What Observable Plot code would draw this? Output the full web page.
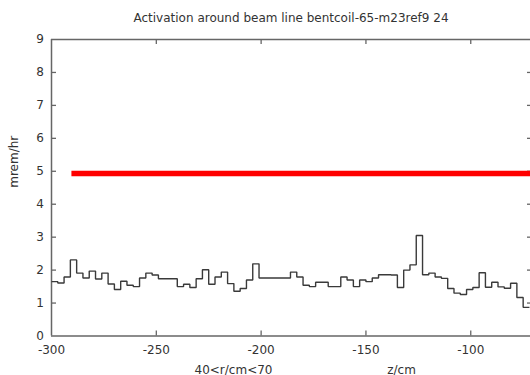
<!DOCTYPE html>
<html>
<head>
<meta charset="utf-8">
<script src="https://cdn.jsdelivr.net/npm/d3@7"></script>
<script src="https://cdn.jsdelivr.net/npm/@observablehq/plot@0.6"></script>
<style>
  html, body { margin: 0; padding: 0; background: #fff; overflow: hidden; }
  #chart { width: 530px; height: 375px; }
</style>
</head>
<body>
<div id="chart"></div>
<script>
// ---- data ----
const titleText = "Activation around beam line bentcoil-65-m23ref9 24";
const xLabel = "z/cm";
const regionLabel = "40<r/cm<70";
const yLabel = "mrem/hr";
const xTicks = [-300, -250, -200, -150, -100];
const yTicks = [0, 1, 2, 3, 4, 5, 6, 7, 8, 9];
const zStart = -300;      // first bin lower edge (cm)
const binWidth = 3;       // cm
const activation = [
  1.65, 1.61, 1.79, 2.31, 1.91, 1.76, 1.97, 1.73, 1.91, 1.58,
  1.41, 1.66, 1.54, 1.50, 1.76, 1.91, 1.85, 1.74, 1.74, 1.74,
  1.50, 1.57, 1.47, 1.74, 2.01, 1.57, 1.79, 1.94, 1.59, 1.36,
  1.44, 1.70, 2.19, 1.76, 1.76, 1.76, 1.76, 1.76, 1.94, 1.79,
  1.54, 1.50, 1.63, 1.63, 1.50, 1.50, 1.79, 1.70, 1.50, 1.70,
  1.65, 1.76, 1.86, 1.86, 1.85, 1.47, 2.00, 2.16, 3.05, 1.86,
  1.91, 1.79, 1.75, 1.44, 1.30, 1.26, 1.41, 1.47, 1.92, 1.48,
  1.63, 1.49, 1.45, 1.60, 1.17, 0.87
];
const limitZ = [-290.5, -60];
const limitValue = 4.93;

// ---- build ----
const steps = activation.map((v, i) => ({z: zStart + i * binWidth, v}));
steps.push({z: zStart + activation.length * binWidth, v: activation[activation.length - 1]});
const limit = limitZ.map(z => ({z, v: limitValue}));

const W = 530, H = 375, mL = 51, mR = 0, mT = 39, mB = 39.5;
const frameW = W - mL - mR, frameH = H - mT - mB;
const axisColor = "#666";
const textColor = "#333";
const tickLen = 5;

const chart = Plot.plot({
  width: W, height: H,
  marginLeft: mL, marginRight: mR, marginTop: mT, marginBottom: mB,
  style: {fontFamily: "DejaVu Sans", fontSize: "12px", color: textColor, background: "#fff", overflow: "hidden"},
  x: {domain: [-300, -71.5]},
  y: {domain: [0, 9]},
  marks: [
    Plot.axisX({ticks: xTicks, tickSize: 0, tickPadding: 9, tickFormat: d => String(d), label: null, fill: textColor}),
    Plot.axisY({ticks: yTicks, tickSize: 0, tickPadding: 7.5, tickFormat: d => String(d), label: null, fill: textColor}),
    // inward tick marks
    Plot.tickX(xTicks.slice(1), {x: d => d, stroke: axisColor, strokeWidth: 1.3, insetTop: frameH - tickLen}),
    Plot.tickX(xTicks.slice(1), {x: d => d, stroke: axisColor, strokeWidth: 1.3, insetBottom: frameH - tickLen}),
    Plot.tickY(yTicks.slice(1, -1), {y: d => d, stroke: axisColor, strokeWidth: 1.3, insetRight: frameW - tickLen}),
    Plot.tickY(yTicks.slice(1, -1), {y: d => d, stroke: axisColor, strokeWidth: 1.3, insetLeft: frameW - 3}),
    // frame lines (right side is off the picture)
    Plot.ruleY([0, 9], {stroke: axisColor, strokeWidth: 1.5}),
    Plot.ruleX([-300], {stroke: axisColor, strokeWidth: 1.5}),
    // limit line
    Plot.line(limit, {x: "z", y: "v", stroke: "#ff0000", strokeWidth: 5.5, strokeLinecap: "butt"}),
    // histogram
    Plot.line(steps, {x: "z", y: "v", curve: "step-after", stroke: "#3a3a3a", strokeWidth: 1.4, strokeLinecap: "butt", strokeLinejoin: "miter"}),
    // texts
    Plot.text([titleText], {frameAnchor: "top", dy: -17.5, lineAnchor: "bottom", fill: textColor, fontSize: 12}),
    Plot.text([yLabel], {frameAnchor: "left", dx: -37, rotate: -90, fill: textColor, fontSize: 12}),
    Plot.text([regionLabel], {frameAnchor: "bottom-left", textAnchor: "middle", dx: 182, dy: 37.5, fill: textColor, fontSize: 12}),
    Plot.text([xLabel], {frameAnchor: "bottom-left", textAnchor: "middle", dx: 350, dy: 37.5, fill: textColor, fontSize: 12})
  ]
});
document.getElementById("chart").appendChild(chart);
</script>
</body>
</html>
